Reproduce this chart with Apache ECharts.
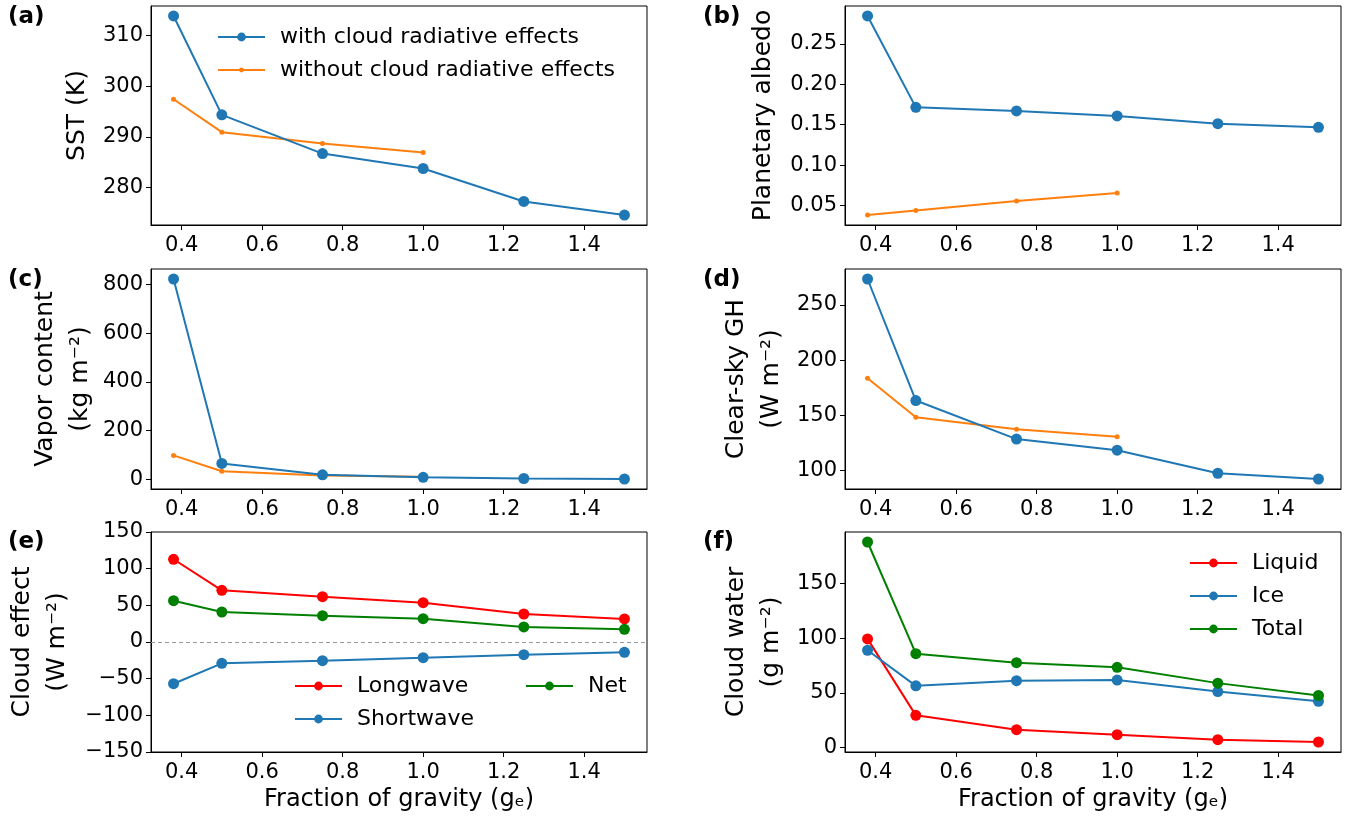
<!DOCTYPE html>
<html>
<head>
<meta charset="utf-8">
<script src="https://cdn.jsdelivr.net/npm/echarts@6/dist/echarts.min.js"></script>
<style>
html,body{margin:0;padding:0;background:#fff;}
#chart{width:1363px;height:823px;}
</style>
</head>
<body>
<div id="chart"></div>
<script>
// ---- data ----
const gravity = [0.38, 0.5, 0.75, 1.0, 1.25, 1.5];
const gravityNoCRE = [0.38, 0.5, 0.75, 1.0];
const sstCRE = [313.9, 294.35, 286.7, 283.75, 277.24, 274.55];
const sstNoCRE = [297.44, 290.93, 288.7, 286.9];
const albedoCRE = [0.2847, 0.1715, 0.167, 0.1608, 0.1512, 0.1467];
const albedoNoCRE = [0.0381, 0.0438, 0.0554, 0.0654];
const vaporCRE = [823, 65, 18, 8, 3, 1];
const vaporNoCRE = [98, 33, 15, 10];
const ghCRE = [273.4, 163.4, 128.5, 118.5, 97.6, 92.4];
const ghNoCRE = [183.6, 148.2, 137.5, 130.6];
const longwave = [112.8, 70.5, 61.8, 53.6, 38.2, 31.4];
const shortwave = [-56.9, -29.1, -25.5, -21.4, -17.3, -14.1];
const netEffect = [56.3, 40.9, 35.9, 31.8, 20.5, 17.3];
const liquid = [99.4, 29.4, 16.3, 11.7, 7.1, 5.0];
const ice = [89, 56.4, 61.1, 61.7, 51.2, 42.3];
const totalWater = [188.1, 85.9, 77.6, 73.4, 58.9, 47.6];

const xTicks = [0.4, 0.6, 0.8, 1.0, 1.2, 1.4];
const aTicks = [280, 290, 300, 310];
const bTicks = [0.05, 0.10, 0.15, 0.20, 0.25];
const cTicks = [0, 200, 400, 600, 800];
const dTicks = [100, 150, 200, 250];
const eTicks = [-150, -100, -50, 0, 50, 100, 150];
const fTicks = [0, 50, 100, 150];

const panelLabels = ['(a)', '(b)', '(c)', '(d)', '(e)', '(f)'];
const yNames = ['SST (K)', 'Planetary albedo', 'Vapor content\n(kg m\u207B\u00B2)', 'Clear-sky GH\n(W m\u207B\u00B2)', 'Cloud effect\n(W m\u207B\u00B2)', 'Cloud water\n(g m\u207B\u00B2)'];
const xName = 'Fraction of gravity (g\u2091)';

// ---- helpers ----
const FONT = 'DejaVu Sans';
const BLUE = '#1f77b4', ORANGE = '#ff7f0e', RED = '#ff0000', GREEN = '#008000';
function pairs(xs, ys) { return xs.map((x, i) => [x, ys[i]]); }
function padRange(arrs) {
  const all = [].concat(...arrs);
  const mn = Math.min(...all), mx = Math.max(...all);
  const p = 0.05 * (mx - mn);
  return [mn - p, mx + p];
}
function fmtNum(v, d) {
  const s = Math.abs(v).toFixed(d);
  return v < 0 ? '\u2212' + s : s;
}
const xRange = padRange([gravity]);

const lefts = [151, 845];
const tops = [6, 269, 532];
const heights = [219, 220, 220];
const grids = [];
for (let r = 0; r < 3; r++) for (let c = 0; c < 2; c++) {
  grids.push({left: lefts[c], top: tops[r], width: 496, height: heights[r], show: true,
    borderColor: '#000', borderWidth: 1, backgroundColor: 'transparent', containLabel: false});
}

const yRanges = [
  padRange([sstCRE, sstNoCRE]),
  padRange([albedoCRE, albedoNoCRE]),
  padRange([vaporCRE, vaporNoCRE]),
  padRange([ghCRE, ghNoCRE]),
  [-150, 150],
  padRange([liquid, ice, totalWater])
];
const yTickSets = [aTicks, bTicks, cTicks, dTicks, eTicks, fTicks];
const yDec = [0, 2, 0, 0, 0, 0];
const yGaps = [59, 67, 53, 56, 76, 56];
const yLineH = [30, 30, 35, 35, 35, 35];

const xAxes = grids.map((g, i) => ({
  type: 'value', gridIndex: i, min: xRange[0], max: xRange[1],
  name: i >= 4 ? xName : '', nameLocation: 'middle', nameGap: 36,
  nameTextStyle: {fontFamily: FONT, fontSize: 24, color: '#000'},
  axisLine: {show: true, onZero: false, lineStyle: {color: '#000', width: 1}},
  axisTick: {show: true, length: 5, lineStyle: {color: '#000'}, customValues: xTicks},
  axisLabel: {show: true, margin: 10, fontFamily: FONT, fontSize: 21, color: '#000',
    customValues: xTicks, formatter: v => fmtNum(v, 1)},
  splitLine: {show: false}
}));
const yAxes = grids.map((g, i) => ({
  type: 'value', gridIndex: i, min: yRanges[i][0], max: yRanges[i][1],
  name: yNames[i], nameLocation: 'middle', nameRotate: 90, nameGap: yGaps[i],
  nameTextStyle: {fontFamily: FONT, fontSize: 25, color: '#000', lineHeight: yLineH[i]},
  axisLine: {show: true, onZero: false, lineStyle: {color: '#000', width: 1}},
  axisTick: {show: true, length: 5, lineStyle: {color: '#000'}, customValues: yTickSets[i]},
  axisLabel: {show: true, margin: 8, fontFamily: FONT, fontSize: 21, color: '#000',
    customValues: yTickSets[i], formatter: v => fmtNum(v, yDec[i])},
  splitLine: {show: false}
}));

function big(name, idx, xs, ys, color, extra) {
  return Object.assign({
    type: 'line', name: name, xAxisIndex: idx, yAxisIndex: idx, data: pairs(xs, ys),
    symbol: 'circle', symbolSize: 11, showSymbol: true, animation: false,
    itemStyle: {color: color}, lineStyle: {color: color, width: 2}, z: 3
  }, extra || {});
}
function small(name, idx, xs, ys, color) {
  return {
    type: 'line', name: name, xAxisIndex: idx, yAxisIndex: idx, data: pairs(xs, ys),
    symbol: 'circle', symbolSize: 5, showSymbol: true, animation: false,
    itemStyle: {color: color}, lineStyle: {color: color, width: 2}, z: 2
  };
}

const series = [
  big('with cloud radiative effects', 0, gravity, sstCRE, BLUE),
  small('without cloud radiative effects', 0, gravityNoCRE, sstNoCRE, ORANGE),
  big('b-with', 1, gravity, albedoCRE, BLUE),
  small('b-without', 1, gravityNoCRE, albedoNoCRE, ORANGE),
  big('c-with', 2, gravity, vaporCRE, BLUE),
  small('c-without', 2, gravityNoCRE, vaporNoCRE, ORANGE),
  big('d-with', 3, gravity, ghCRE, BLUE),
  small('d-without', 3, gravityNoCRE, ghNoCRE, ORANGE),
  big('Longwave', 4, gravity, longwave, RED, {
    markLine: {silent: true, symbol: 'none', label: {show: false}, animation: false,
      lineStyle: {color: '#999', type: [4, 3], width: 1}, data: [{yAxis: 0}]}
  }),
  big('Shortwave', 4, gravity, shortwave, BLUE),
  big('Net', 4, gravity, netEffect, GREEN),
  big('Liquid', 5, gravity, liquid, RED),
  big('Ice', 5, gravity, ice, BLUE),
  big('Total', 5, gravity, totalWater, GREEN)
];

const legendBase = {orient: 'vertical', itemWidth: 47, itemHeight: 11, itemGap: 11,
  textStyle: {fontFamily: FONT, fontSize: 22, color: '#000', padding: [0, 0, 0, 10]},
  selectedMode: false, inactiveColor: '#000'};
const legends = [
  Object.assign({}, legendBase, {left: 212, top: 21, data: ['with cloud radiative effects']}),
  Object.assign({}, legendBase, {left: 212, top: 54, itemHeight: 6, data: ['without cloud radiative effects']}),
  Object.assign({}, legendBase, {left: 289, top: 670, data: ['Longwave', 'Shortwave']}),
  Object.assign({}, legendBase, {left: 520, top: 670, data: ['Net']}),
  Object.assign({}, legendBase, {left: 1184, top: 547, data: ['Liquid', 'Ice', 'Total']})
];

const graphics = panelLabels.map((t, i) => ({
  type: 'text', left: (i % 2 === 0) ? 8 : 703, top: [6, 269, 531][Math.floor(i / 2)],
  style: {text: t, fontFamily: FONT, fontSize: 23, fontWeight: 'bold', fill: '#000'}
}));

const chart = echarts.init(document.getElementById('chart'), null, {renderer: 'canvas'});
chart.setOption({
  animation: false,
  backgroundColor: '#fff',
  grid: grids,
  xAxis: xAxes,
  yAxis: yAxes,
  legend: legends,
  graphic: graphics,
  series: series
});
</script>
</body>
</html>
